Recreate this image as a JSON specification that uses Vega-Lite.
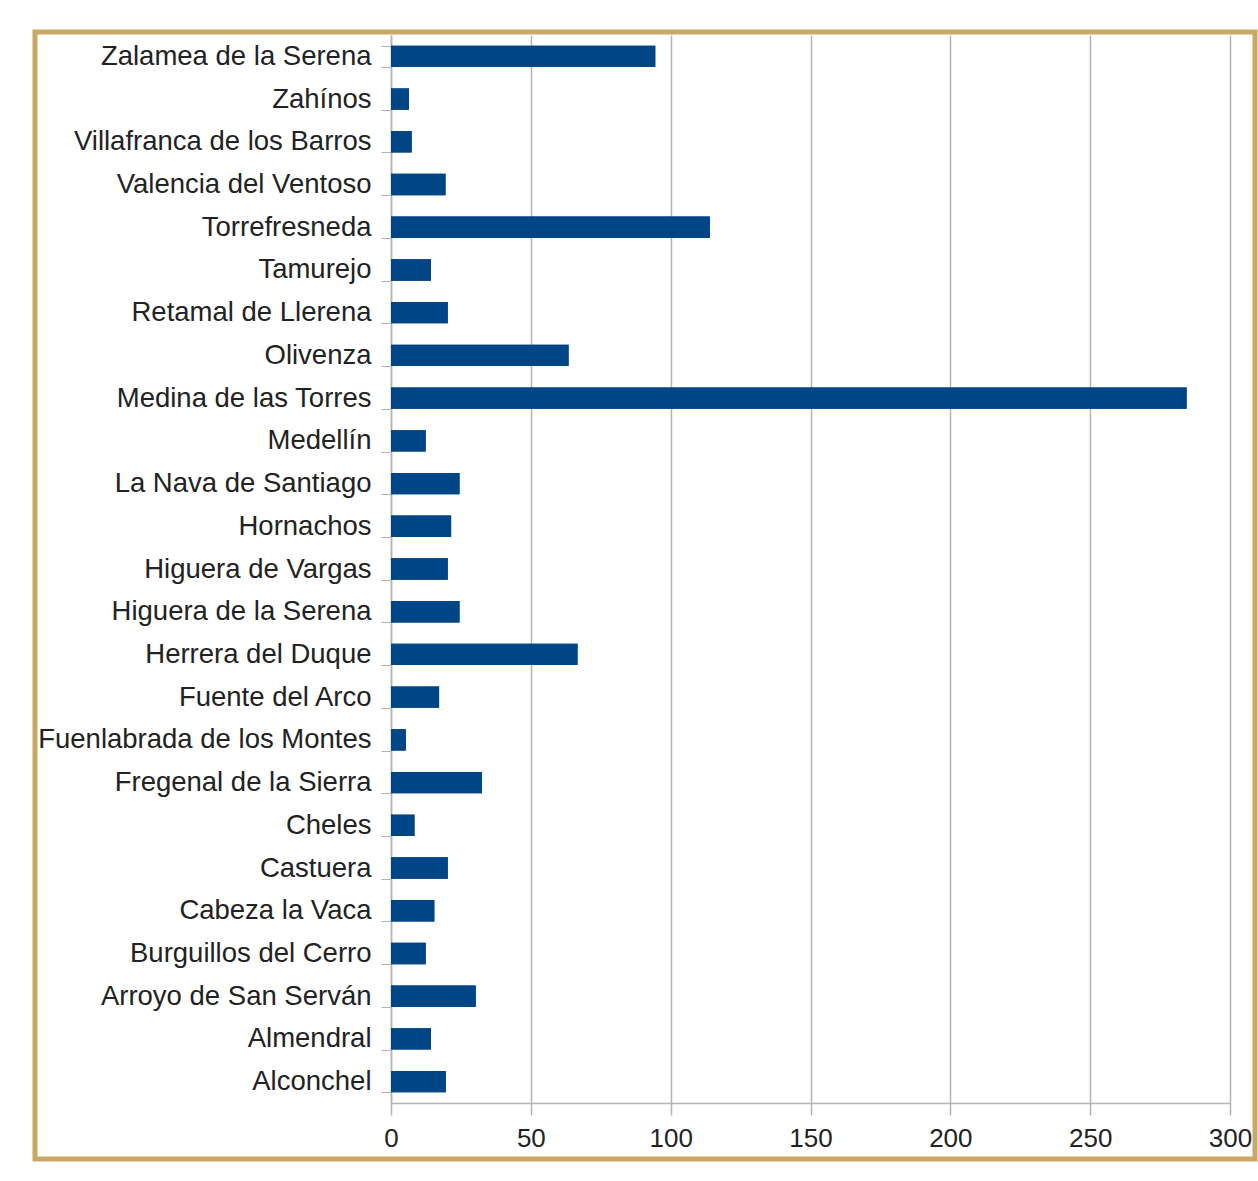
{
  "$schema": "https://vega.github.io/schema/vega-lite/v6.json",
  "width": 1220,
  "height": 1127,
  "autosize": {"type": "none"},
  "padding": {"left": 35, "top": 32, "right": 3, "bottom": 22},
  "background": "#ffffff",
  "config": {
    "view": {"stroke": "#C8A864", "strokeWidth": 5, "fill": "#ffffff"},
    "axis": {"labelFont": "Liberation Sans", "labelColor": "#222222", "domainColor": "#b3b3b3", "tickColor": "#b3b3b3", "gridColor": "#b3b3b3"}
  },
  "data": {
    "values": [
      {"municipio": "Zalamea de la Serena", "valor": 94.5},
      {"municipio": "Zahínos", "valor": 6.4},
      {"municipio": "Villafranca de los Barros", "valor": 7.4},
      {"municipio": "Valencia del Ventoso", "valor": 19.5},
      {"municipio": "Torrefresneda", "valor": 114},
      {"municipio": "Tamurejo", "valor": 14.3},
      {"municipio": "Retamal de Llerena", "valor": 20.3},
      {"municipio": "Olivenza", "valor": 63.5},
      {"municipio": "Medina de las Torres", "valor": 284.5},
      {"municipio": "Medellín", "valor": 12.4},
      {"municipio": "La Nava de Santiago", "valor": 24.5},
      {"municipio": "Hornachos", "valor": 21.5},
      {"municipio": "Higuera de Vargas", "valor": 20.3},
      {"municipio": "Higuera de la Serena", "valor": 24.5},
      {"municipio": "Herrera del Duque", "valor": 66.7},
      {"municipio": "Fuente del Arco", "valor": 17.2},
      {"municipio": "Fuenlabrada de los Montes", "valor": 5.3},
      {"municipio": "Fregenal de la Sierra", "valor": 32.5},
      {"municipio": "Cheles", "valor": 8.4},
      {"municipio": "Castuera", "valor": 20.3},
      {"municipio": "Cabeza la Vaca", "valor": 15.5},
      {"municipio": "Burguillos del Cerro", "valor": 12.4},
      {"municipio": "Arroyo de San Serván", "valor": 30.3},
      {"municipio": "Almendral", "valor": 14.3},
      {"municipio": "Alconchel", "valor": 19.6}
    ]
  },
  "resolve": {"axis": {"x": "independent"}},
  "layer": [
    {
      "mark": {"type": "bar", "color": "#004586"},
      "encoding": {
        "y": {
          "field": "municipio",
          "type": "nominal",
          "sort": null,
          "scale": {"range": [3, 1071], "paddingInner": 0.5, "paddingOuter": 0.25},
          "axis": {
            "title": null,
            "orient": "left",
            "offset": -356,
            "grid": false,
            "tickBand": "extent",
            "tickSize": 10,
            "labelPadding": 10,
            "labelFontSize": 27.5,
            "labelLimit": 500,
            "domainWidth": 1.5
          }
        },
        "x": {
          "field": "valor",
          "type": "quantitative",
          "scale": {"domain": [0, 300], "range": [356, 1195], "nice": false, "zero": true},
          "axis": {
            "title": null,
            "orient": "bottom",
            "offset": -56,
            "values": [0, 50, 100, 150, 200, 250, 300],
            "grid": false,
            "tickSize": 12,
            "tickWidth": 1.5,
            "domainWidth": 1.5,
            "labelPadding": 10,
            "labelFontSize": 26,
            "labelFlush": false,
            "labelOverlap": false
          }
        }
      }
    },
    {
      "mark": {"type": "bar", "color": "#004586"},
      "encoding": {
        "y": {"field": "municipio", "type": "nominal", "sort": null},
        "x": {
          "field": "valor",
          "type": "quantitative",
          "axis": {
            "title": null,
            "orient": "top",
            "offset": -3,
            "values": [0, 50, 100, 150, 200, 250, 300],
            "grid": false,
            "domain": false,
            "labels": false,
            "tickSize": -1068,
            "tickWidth": 1.5
          }
        }
      }
    }
  ]
}
